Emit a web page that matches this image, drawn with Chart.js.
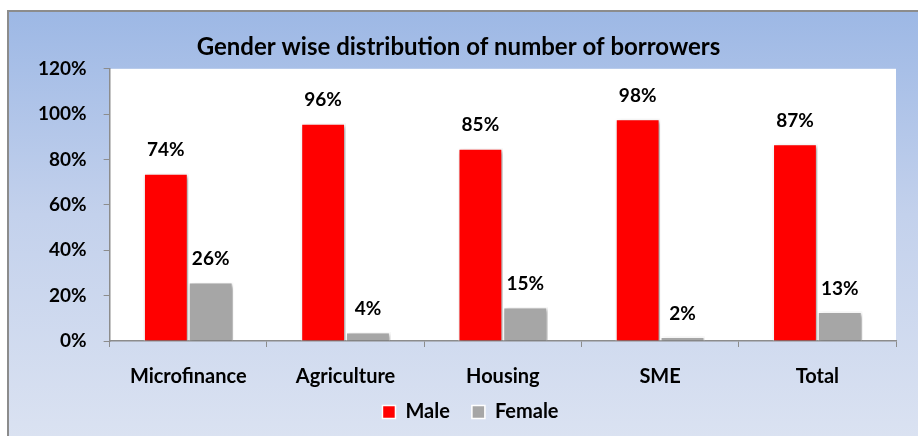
<!DOCTYPE html>
<html>
<head>
<meta charset="utf-8">
<script src="https://cdn.jsdelivr.net/npm/chart.js@4.4.0/dist/chart.umd.min.js"></script>
<style>
    html, body { margin: 0; padding: 0; background: #fff; overflow: hidden; }
    #frame {
        position: absolute; left: 7px; top: 10px; width: 930px; height: 450px;
        border: 2px solid #8c8c8c;
        background: linear-gradient(to bottom, #9db8e5 0%, #c3d1ec 45%, #dde4f2 100%);
    }
    #wrap { position: absolute; left: 0; top: 0; width: 918px; height: 436px; }
</style>
</head>
<body>
<div id="frame"></div>
<div id="wrap"><canvas id="genderChart" width="918" height="436"></canvas></div>
<script>
    // Dati
    const categories = ["Microfinance", "Agriculture", "Housing", "SME", "Total"];
    const maleValues = [74, 96, 85, 98, 87];
    const femaleValues = [26, 4, 15, 2, 13];
    const yTicks = [0, 20, 40, 60, 80, 100, 120];

    const FONT = "Lato, 'Open Sans', sans-serif";

    // Sfondo bianco dell'area del grafico
    const plotBackground = {
        id: "plotBackground",
        beforeDraw(chart) {
            const { ctx, chartArea: a } = chart;
            ctx.save();
            ctx.fillStyle = "#ffffff";
            ctx.fillRect(a.left, a.top, a.right - a.left, a.bottom - a.top);
            ctx.restore();
        }
    };

    // Legenda più bassa e compatta, spostata come nell'originale
    const legendPlace = {
        id: "legendPlace",
        beforeLayout(chart) {
            const lg = chart.legend;
            if (lg && !lg._fitPatched) {
                const fit = lg.fit;
                lg.fit = function () {
                    fit.call(this);
                    this.height = 29;
                };
                lg._fitPatched = true;
            }
        },
        afterLayout(chart) {
            const lg = chart.legend;
            lg.left += 12;
            lg.right += 12;
            lg.top -= 27;
            lg.bottom = chart.height;
            lg.height = lg.bottom - lg.top;
        }
    };

    // Ombra leggera sotto le barre
    const barShadow = {
        id: "barShadow",
        beforeDatasetsDraw(chart) {
            const ctx = chart.ctx;
            ctx.save();
            ctx.shadowColor = "rgba(0,0,0,0.35)";
            ctx.shadowBlur = 4;
            ctx.shadowOffsetX = 2;
            ctx.shadowOffsetY = 2;
        },
        afterDatasetsDraw(chart) {
            chart.ctx.restore();
        }
    };

    // Etichette con il valore sopra ogni barra
    const valueLabels = {
        id: "valueLabels",
        afterDatasetsDraw(chart) {
            const ctx = chart.ctx;
            ctx.save();
            ctx.font = "bold 19px " + FONT;
            ctx.fillStyle = "#000";
            ctx.textAlign = "center";
            ctx.textBaseline = "middle";
            chart.data.datasets.forEach((ds, i) => {
                chart.getDatasetMeta(i).data.forEach((bar, j) => {
                    ctx.fillText(ds.data[j] + "%", bar.x, bar.y - 23);
                });
            });
            ctx.restore();
        }
    };

    new Chart(document.getElementById("genderChart").getContext("2d"), {
        type: "bar",
        data: {
            labels: categories,
            datasets: [{
                label: "Male",
                data: maleValues,
                backgroundColor: "#ff0000",
                borderColor: "#ffffff",
                borderWidth: 1.5
            }, {
                label: "Female",
                data: femaleValues,
                backgroundColor: "#a6a6a6",
                borderColor: "#ffffff",
                borderWidth: 1.5
            }]
        },
        options: {
            responsive: false,
            animation: false,
            layout: { padding: { left: 21, right: 22, top: 28, bottom: 0 } },
            datasets: { bar: { categoryPercentage: 0.57, barPercentage: 1 } },
            plugins: {
                title: {
                    display: true,
                    text: "Gender wise distribution of number of borrowers",
                    color: "#000",
                    font: { family: FONT, size: 24, weight: "bold" },
                    padding: { top: 5, bottom: 7 }
                },
                legend: {
                    position: "bottom",
                    labels: {
                        color: "#000",
                        font: { family: FONT, size: 20, weight: "bold" },
                        boxWidth: 13,
                        boxHeight: 13,
                        padding: 22
                    }
                },
                tooltip: { enabled: false }
            },
            scales: {
                x: {
                    grid: { display: true, drawOnChartArea: false, color: "#8c8c8c", tickLength: 6, offset: true },
                    border: { color: "#8c8c8c", width: 1.5 },
                    ticks: { color: "#000", font: { family: FONT, size: 20, weight: "bold" }, padding: 18 }
                },
                y: {
                    min: 0,
                    max: 120,
                    afterBuildTicks(axis) {
                        axis.ticks = yTicks.map(v => ({ value: v }));
                    },
                    grid: { display: true, drawOnChartArea: false, color: "#8c8c8c", tickLength: 6 },
                    border: { color: "#8c8c8c", width: 1.5 },
                    ticks: {
                        color: "#000",
                        font: { family: FONT, size: 19, weight: "bold" },
                        padding: 17,
                        callback: v => v + "%"
                    }
                }
            }
        },
        plugins: [plotBackground, legendPlace, barShadow, valueLabels]
    });
</script>
</body>
</html>
